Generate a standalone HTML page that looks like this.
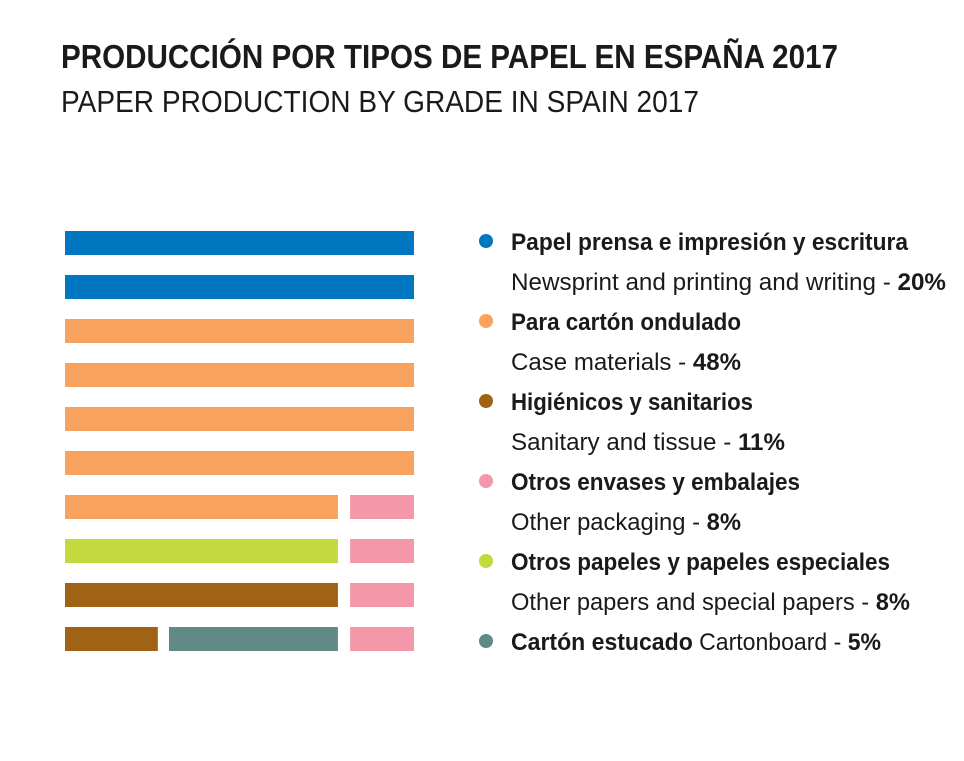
<!DOCTYPE html>
<html><head><meta charset="utf-8"><style>
html,body{margin:0;padding:0;background:#fff;}
svg{display:block;font-family:"Liberation Sans Narrow","Liberation Sans",sans-serif;}
</style></head><body>
<svg id="chart" width="964" height="761" viewBox="0 0 964 761" xmlns="http://www.w3.org/2000/svg">
<text x="61" y="68" font-size="33" font-weight="bold" fill="#1a1a1a" textLength="777" lengthAdjust="spacingAndGlyphs">PRODUCCIÓN POR TIPOS DE PAPEL EN ESPAÑA 2017</text>
<text x="61" y="112" font-size="31" fill="#1a1a1a" textLength="638" lengthAdjust="spacingAndGlyphs">PAPER PRODUCTION BY GRADE IN SPAIN 2017</text>
<g id="bars"></g>
<g id="legend"></g>
</svg>
<script>
const categories = ["Papel prensa e impresión y escritura","Para cartón ondulado","Higiénicos y sanitarios","Otros envases y embalajes","Otros papeles y papeles especiales","Cartón estucado"];
const englishNames = ["Newsprint and printing and writing","Case materials","Sanitary and tissue","Other packaging","Other papers and special papers","Cartonboard"];
const values = [20,48,11,8,8,5];
const colors = ["#0077c0","#f7a35f","#a06214","#f497a8","#c4d93e","#5f8a86"];
// waffle rows: each segment [category index, start unit, end unit] on 0..10 scale
const rowSegments = [
  [[0,0,10]],
  [[0,0,10]],
  [[1,0,10]],
  [[1,0,10]],
  [[1,0,10]],
  [[1,0,10]],
  [[1,0,7.82],[3,8.17,10]],
  [[4,0,7.82],[3,8.17,10]],
  [[2,0,7.82],[3,8.17,10]],
  [[2,0,2.66],[5,2.98,7.82],[3,8.17,10]]
];
const NS="http://www.w3.org/2000/svg";
const xScale=u=>65+u*34.9;
const yScale=r=>231+r*44;
const rowH=24;
const bars=document.getElementById('bars');
rowSegments.forEach((row,r)=>{
  row.forEach(seg=>{
    const el=document.createElementNS(NS,'rect');
    
    
    el.setAttribute('x',xScale(seg[1]));
    el.setAttribute('y',yScale(r));
    el.setAttribute('width',xScale(seg[2])-xScale(seg[1]));
    el.setAttribute('height',rowH);
    el.setAttribute('fill',colors[seg[0]]);
    bars.appendChild(el);
  });
});
const legend=document.getElementById('legend');
const lineW1=[397,230,242,289,379];
const lineW2=[435,230,274,230,399];
function txt(x,y,w,parts){
  const t=document.createElementNS(NS,'text');
  t.setAttribute('x',x);t.setAttribute('y',y);t.setAttribute('font-size','24');t.setAttribute('fill','#1a1a1a');
  t.setAttribute('textLength',w);t.setAttribute('lengthAdjust','spacingAndGlyphs');
  parts.forEach(p=>{const s=document.createElementNS(NS,'tspan');s.textContent=p[0];if(p[1])s.setAttribute('font-weight','bold');t.appendChild(s);});
  legend.appendChild(t);return t;
}
categories.forEach((c,i)=>{
  const y=250+i*80;
  const dot=document.createElementNS(NS,'circle');
  
  
  dot.setAttribute('cx',486);dot.setAttribute('cy',y-9);dot.setAttribute('r',7);dot.setAttribute('fill',colors[i]);
  legend.appendChild(dot);
  if(i<5){
    const a=txt(511,y,lineW1[i],[[c,true]]);
    
    
    const b=txt(511,y+40,lineW2[i],[[englishNames[i]+' - ',false],[values[i]+'%',true]]);
    
    
  } else {
    const a=txt(511,y,370,[[c+' ',true],[englishNames[i]+' - ',false],[values[i]+'%',true]]);
    
    
  }
});
</script>
</body></html>
